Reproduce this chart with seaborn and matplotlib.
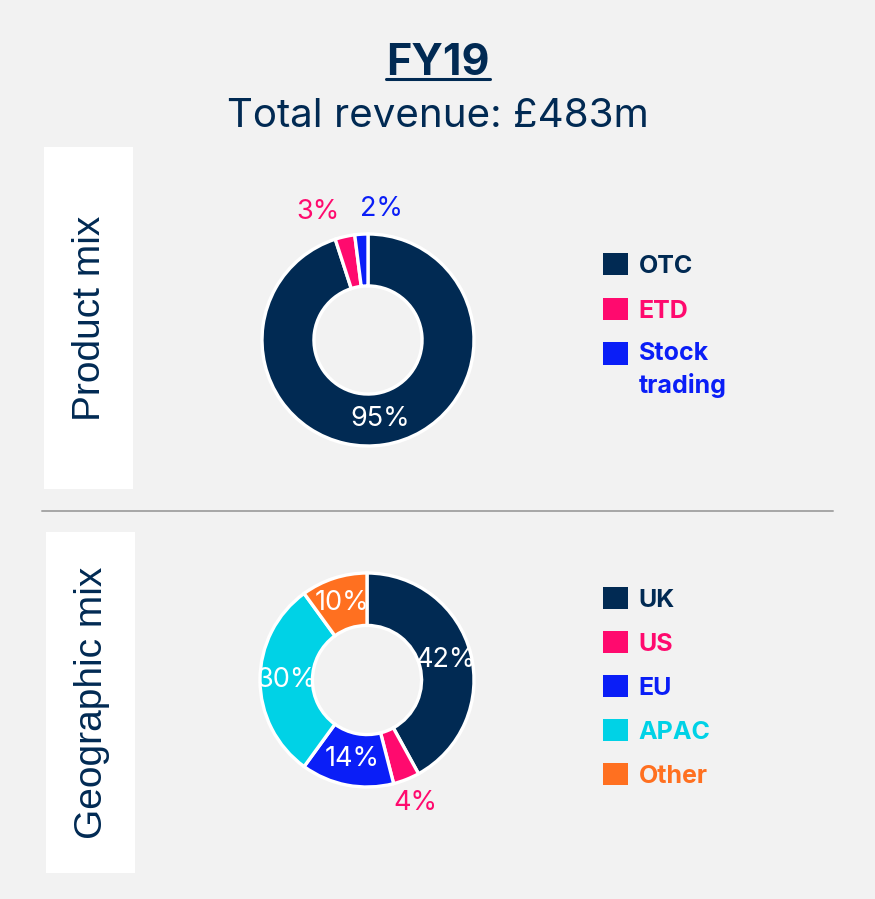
import matplotlib
matplotlib.use("Agg")

import numpy as np
import matplotlib.pyplot as plt
import seaborn as sns
from matplotlib.legend_handler import HandlerPatch
from matplotlib.lines import Line2D
from matplotlib.patches import Patch, Rectangle

# data
product_labels = ["OTC", "ETD", "Stock\ntrading"]
product_values = [95, 3, 2]
product_label_ha = ["center", "right", "left"]

geo_labels = ["UK", "US", "EU", "APAC", "Other"]
geo_values = [42, 4, 14, 30, 10]
geo_label_ha = ["center", "center", "center", "center", "center"]

title = "FY19"
subtitle = "Total revenue: £483m"

NAVY = "#012a53"
palette = sns.color_palette(["#012a53", "#ff0a6e", "#0a1ef7", "#00d2e6", "#ff7020"])

sns.set_theme(style="white", rc={"figure.facecolor": "#f2f2f2", "axes.facecolor": "#f2f2f2"})
plt.rcParams["font.family"] = ["Inter", "DejaVu Sans"]

W, H = 875, 899
LEG_SIZE = 18
LINE_SP = 1.38
fig = plt.figure(figsize=(W / 100, H / 100), dpi=100)


class TopSquare(HandlerPatch):
    """Square handle lined up with the first line of a two-line label."""

    def __init__(self, shift, **kw):
        super().__init__(**kw)
        self.shift = shift

    def create_artists(self, legend, orig_handle, xdescent, ydescent,
                       width, height, fontsize, trans):
        p = Rectangle((-xdescent, -ydescent + self.shift), width, height)
        self.update_prop(p, orig_handle, legend)
        p.set_transform(trans)
        return [p]


def px_axes(x0, y0, x1, y1):
    return fig.add_axes([x0 / W, 1 - y1 / H, (x1 - x0) / W, (y1 - y0) / H])


def donut(cx, cy, r, values, labels, label_ha, legend_xy, spacing):
    colors = palette[:len(values)]
    half = 1.25 * r
    ax = px_axes(cx - half, cy - half, cx + half, cy + half)
    wedges, _ = ax.pie(
        values, colors=colors, startangle=90, counterclock=False, radius=1,
        wedgeprops=dict(width=0.49, edgecolor="white", linewidth=2.4),
    )
    ax.set_xlim(-1.25, 1.25)
    ax.set_ylim(-1.25, 1.25)
    ax.set_aspect("equal")
    ax.axis("off")

    for w, v, c, ha in zip(wedges, values, colors, label_ha):
        mid = np.deg2rad((w.theta1 + w.theta2) / 2)
        if v < 5:
            dist, col = 1.24, c
        else:
            dist, col = 0.755, "white"
        ax.text(dist * np.cos(mid), dist * np.sin(mid), f"{v}%", ha=ha, va="center",
                color=col, fontsize=19.5)

    handles = [Patch(facecolor=c, edgecolor="none") for c in colors]
    hmap = {h: TopSquare(0.5 * LINE_SP * LEG_SIZE)
            for h, lab in zip(handles, labels) if "\n" in lab}
    leg = fig.legend(
        handles, labels, loc="upper left",
        bbox_to_anchor=(legend_xy[0] / W, 1 - legend_xy[1] / H),
        frameon=False, handlelength=1.0, handleheight=1.0, handletextpad=0.42,
        labelspacing=spacing, borderpad=0, borderaxespad=0,
        prop=dict(weight="bold", size=LEG_SIZE), handler_map=hmap,
    )
    for t, c in zip(leg.get_texts(), colors):
        t.set_color(c)
        t.set_linespacing(LINE_SP)
    return ax


# section boxes on the left
for (x0, y0, x1, y1), label in [((44, 147, 133, 489), "Product mix"),
                                ((46, 532, 135, 873), "Geographic mix")]:
    box = px_axes(x0, y0, x1, y1)
    box.set_facecolor("white")
    box.set_xticks([])
    box.set_yticks([])
    for s in box.spines.values():
        s.set_visible(False)
    box.text(0.52, 0.5, label, rotation=90, ha="center", va="center",
             transform=box.transAxes, color=NAVY, fontsize=28,
             family=["Liberation Sans", "DejaVu Sans"])

donut(368, 340, 106, product_values, product_labels, product_label_ha, (603, 253), 0.8)
donut(367, 680, 107, geo_values, geo_labels, geo_label_ha, (603, 587), 0.77)

# separator
fig.add_artist(Line2D([42 / W, 833 / W], [1 - 511 / H, 1 - 511 / H],
                      color="#a6a6a6", lw=1.4))

# titles
t1 = fig.text(438 / W, 1 - 75 / H, title, ha="center", va="baseline",
              fontsize=31, weight="bold", color=NAVY)
fig.text(438 / W, 1 - 127 / H, subtitle, ha="center", va="baseline",
         fontsize=29, color=NAVY)

fig.canvas.draw()
bb = t1.get_window_extent().transformed(fig.transFigure.inverted())
fig.add_artist(Line2D([bb.x0, bb.x1], [1 - 79 / H, 1 - 79 / H], color=NAVY, lw=2.2))

fig.savefig("out.png", dpi=100, facecolor=fig.get_facecolor())
